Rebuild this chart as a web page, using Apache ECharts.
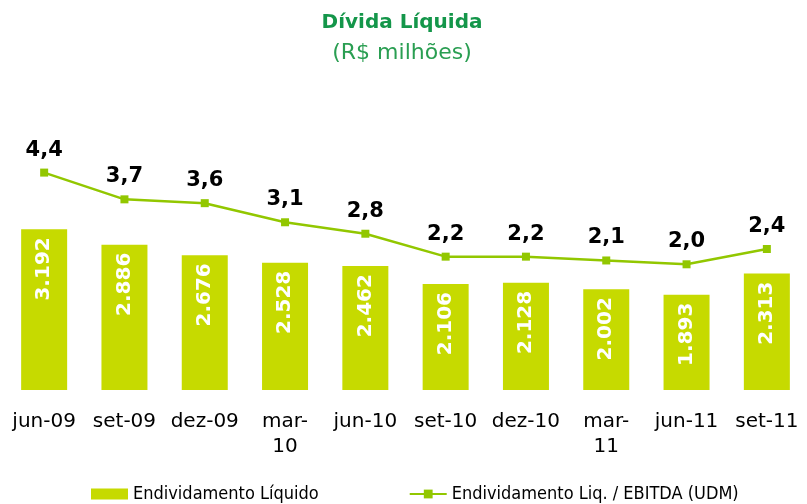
<!DOCTYPE html>
<html>
<head>
<meta charset="utf-8">
<script src="https://cdn.jsdelivr.net/npm/echarts@6/dist/echarts.min.js"></script>
<style>
  html, body { margin: 0; padding: 0; background: #fff; }
  #chart { width: 807px; height: 504px; }
</style>
</head>
<body>
<div id="chart"></div>
<script>
var categories = ['jun-09', 'set-09', 'dez-09', 'mar-10', 'jun-10', 'set-10', 'dez-10', 'mar-11', 'jun-11', 'set-11'];
var divida = [3192, 2886, 2676, 2528, 2462, 2106, 2128, 2002, 1893, 2313];
var ratio = [4.4, 3.7, 3.6, 3.1, 2.8, 2.2, 2.2, 2.1, 2.0, 2.4];

var barColor = '#c6da00';
var lineColor = '#92c700';
var font = 'DejaVu Sans';

var chart = echarts.init(document.getElementById('chart'));
chart.setOption({
  animation: false,
  title: {
    text: 'Dívida Líquida',
    subtext: '(R$ milhões)',
    left: 397,
    textAlign: 'center',
    top: 8,
    itemGap: 9,
    textStyle: { fontFamily: font, fontSize: 20, fontWeight: 'bold', color: '#14964a' },
    subtextStyle: { fontFamily: font, fontSize: 22, color: '#2a9e52' }
  },
  legend: {
    top: 480,
    left: 86,
    itemGap: 90,
    itemWidth: 37,
    itemHeight: 11,
    textStyle: { fontFamily: 'DejaVu Sans Condensed', fontSize: 18, color: '#000' },
    data: [
      { name: 'Endividamento Líquido', icon: 'rect', itemStyle: { color: barColor } },
      { name: 'Endividamento Liq. / EBITDA (UDM)' }
    ]
  },
  grid: { left: 4, width: 809, top: 100, bottom: 114 },
  xAxis: {
    type: 'category',
    data: categories,
    axisLine: { show: false },
    axisTick: { show: false },
    axisLabel: {
      interval: 0,
      margin: 19,
      fontFamily: font,
      fontSize: 20,
      lineHeight: 25,
      color: '#000',
      formatter: function (v) {
        return v.indexOf('mar') === 0 ? v.replace('-', '-\n') : v;
      }
    }
  },
  yAxis: [
    { type: 'value', min: 0, max: 5760, show: false, splitLine: { show: false } },
    { type: 'value', min: -1.29, max: 6.3, show: false, splitLine: { show: false } }
  ],
  series: [
    {
      name: 'Endividamento Líquido',
      type: 'bar',
      data: divida,
      barWidth: 46,
      itemStyle: { color: barColor },
      label: {
        show: true,
        position: 'insideTop',
        distance: 8,
        rotate: 90,
        align: 'right',
        verticalAlign: 'middle',
        fontFamily: font,
        fontSize: 20,
        fontWeight: 'bold',
        color: '#fff',
        formatter: function (p) {
          return String(p.value).replace(/(\d)(\d{3})$/, '$1.$2');
        }
      }
    },
    {
      name: 'Endividamento Liq. / EBITDA (UDM)',
      type: 'line',
      yAxisIndex: 1,
      data: ratio,
      symbol: 'rect',
      symbolSize: 8,
      lineStyle: { color: lineColor, width: 2.5 },
      itemStyle: { color: lineColor },
      label: {
        show: true,
        position: 'top',
        distance: 8,
        fontFamily: font,
        fontSize: 21,
        fontWeight: 'bold',
        color: '#000',
        formatter: function (p) {
          return p.value.toFixed(1).replace('.', ',');
        }
      }
    }
  ]
});
</script>
</body>
</html>
